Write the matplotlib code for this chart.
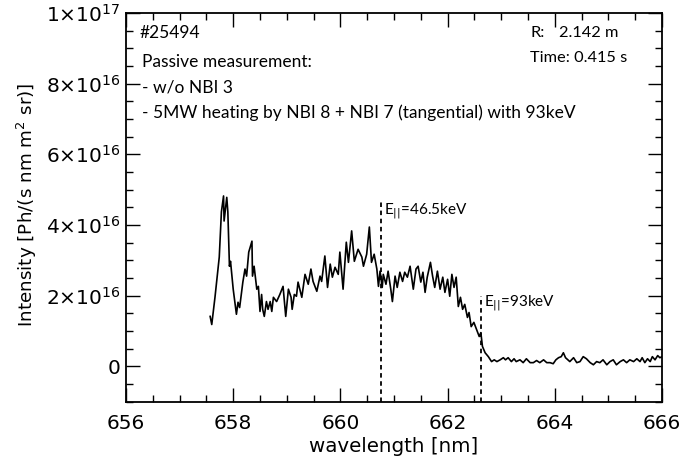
import matplotlib
matplotlib.use("Agg")
import matplotlib.pyplot as plt
from matplotlib.ticker import MultipleLocator, FixedLocator

# ---- data (wavelength in nm, intensity in units of 1e16 Ph/(s nm m^2 sr)) ----
wavelength = [
    657.57, 657.60, 657.66, 657.74, 657.78, 657.82, 657.83, 657.88, 657.90, 657.93,
    657.95, 658.00, 658.06, 658.09, 658.12, 658.18, 658.22, 658.25, 658.29, 658.35,
    658.36, 658.39, 658.44, 658.47, 658.50, 658.53, 658.55, 658.58, 658.62, 658.65,
    658.69, 658.72, 658.75, 658.81, 658.87, 658.93, 658.98, 659.03, 659.08, 659.10,
    659.14, 659.18, 659.21, 659.28, 659.34, 659.40, 659.45, 659.49, 659.56, 659.62,
    659.65, 659.71, 659.76, 659.81, 659.85, 659.90, 659.96, 659.99, 660.05, 660.11,
    660.15, 660.21, 660.26, 660.33, 660.40, 660.43, 660.49, 660.54, 660.58, 660.63,
    660.68, 660.71, 660.74, 660.78, 660.80, 660.85, 660.89, 660.94, 660.97, 661.02,
    661.06, 661.11, 661.16, 661.20, 661.25, 661.30, 661.36, 661.41, 661.45, 661.50,
    661.54, 661.58, 661.62, 661.68, 661.72, 661.76, 661.81, 661.86, 661.91, 661.95,
    662.00, 662.04, 662.08, 662.12, 662.16, 662.20, 662.24, 662.28, 662.32, 662.37,
    662.40, 662.44, 662.49, 662.54, 662.59, 662.62, 662.65, 662.70, 662.76, 662.82,
    662.87, 662.92, 662.98, 663.04, 663.08, 663.13, 663.19, 663.24, 663.28, 663.35,
    663.41, 663.47, 663.54, 663.60, 663.66, 663.72, 663.79, 663.85, 663.91, 663.97,
    664.02, 664.07, 664.12, 664.16, 664.20, 664.28, 664.35, 664.41, 664.47, 664.53,
    664.59, 664.66, 664.72, 664.78, 664.84, 664.90, 664.97, 665.03, 665.09, 665.15,
    665.22, 665.28, 665.34, 665.40, 665.47, 665.53, 665.59, 665.63, 665.68, 665.73,
    665.78, 665.82, 665.87, 665.92, 665.96, 666.00,
]
intensity = [
    1.41, 1.18, 1.95, 3.09, 4.37, 4.82, 4.11, 4.78, 4.37, 2.83,
    2.97, 2.18, 1.47, 1.81, 1.66, 2.38, 2.75, 2.55, 3.23, 3.54,
    2.55, 2.83, 2.18, 2.26, 1.55, 2.03, 1.61, 1.41, 1.83, 1.61,
    1.83, 1.55, 1.95, 1.83, 2.03, 2.26, 1.41, 2.18, 1.95, 1.61,
    2.03, 1.98, 2.38, 1.95, 2.60, 2.32, 2.75, 2.40, 2.12, 2.55,
    2.40, 3.12, 2.23, 2.89, 2.52, 2.80, 2.60, 3.23, 2.18, 3.51,
    2.94, 3.83, 2.97, 3.31, 3.09, 2.83, 3.17, 3.94, 2.94, 3.17,
    2.75, 2.26, 2.69, 2.23, 2.60, 2.32, 2.69, 2.18, 1.83, 2.55,
    2.23, 2.66, 2.40, 2.66, 2.52, 2.83, 2.18, 2.75, 2.83, 2.38,
    2.66, 2.09, 2.52, 2.94, 2.55, 2.23, 2.69, 2.18, 2.52, 2.09,
    2.46, 1.98, 2.60, 2.23, 2.52, 1.69, 1.95, 1.61, 1.75, 1.38,
    1.52, 1.12, 1.24, 1.04, 0.84, 0.95, 0.56, 0.38, 0.27, 0.13,
    0.18, 0.13, 0.18, 0.24, 0.18, 0.24, 0.13, 0.21, 0.13, 0.18,
    0.10, 0.21, 0.10, 0.10, 0.16, 0.10, 0.18, 0.10, 0.10, 0.07,
    0.18, 0.24, 0.27, 0.38, 0.24, 0.13, 0.24, 0.10, 0.13, 0.27,
    0.21, 0.10, 0.04, 0.13, 0.10, 0.18, 0.04, 0.13, 0.18, 0.04,
    0.13, 0.18, 0.10, 0.18, 0.13, 0.21, 0.13, 0.24, 0.10, 0.21,
    0.13, 0.27, 0.18, 0.30, 0.24, 0.27,
]
scale = 1e16

marker_wl = [660.76, 662.62]
marker_top = [4.7, 2.0]
marker_labels = [r"E$_{||}$=46.5keV", r"E$_{||}$=93keV"]

x_ticks = [656, 658, 660, 662, 664, 666]
y_ticks = [0, 2e16, 4e16, 6e16, 8e16, 1e17]
y_ticklabels = ["0", r"$2{\times}10^{16}$", r"$4{\times}10^{16}$", r"$6{\times}10^{16}$",
                r"$8{\times}10^{16}$", r"$1{\times}10^{17}$"]

info_left = ["#25494", "Passive measurement:", "- w/o NBI 3",
             "- 5MW heating by NBI 8 + NBI 7 (tangential) with 93keV"]

TXT_FONT = ["Lato", "DejaVu Sans"]

# ---- figure ----
plt.rcParams["mathtext.fontset"] = "dejavusans"
fig = plt.figure(figsize=(6.81, 4.62), dpi=100)
ax = fig.add_axes([126/681, 1 - 401.5/462, (662-126)/681, (401.5-13)/462])

ax.plot(wavelength, [v * scale for v in intensity], color="black", lw=1.2)

for xm, top in zip(marker_wl, marker_top):
    ax.plot([xm, xm], [-1e16, top * scale], color="black", lw=1.3,
            linestyle=(0, (2.5, 2)))

ax.text(marker_wl[0] + 0.06, 4.39e16, marker_labels[0], fontsize=11,
        family=TXT_FONT, va="center", ha="left")
ax.text(marker_wl[1] + 0.06, 1.78e16, marker_labels[1], fontsize=11,
        family=TXT_FONT, va="center", ha="left")

ax.set_xlim(656, 666)
ax.set_ylim(-1e16, 1e17)
ax.xaxis.set_major_locator(FixedLocator(x_ticks))
ax.xaxis.set_minor_locator(MultipleLocator(0.5))
ax.yaxis.set_major_locator(FixedLocator(y_ticks))
ax.yaxis.set_minor_locator(MultipleLocator(5e15))
ax.set_yticklabels(y_ticklabels)
ax.tick_params(which="both", direction="in", top=True, right=True, width=1.0)
ax.tick_params(which="major", length=10)
ax.tick_params(which="minor", length=5)
ax.tick_params(axis="x", which="major", labelsize=14.5, pad=9)
ax.tick_params(axis="y", which="major", labelsize=14.5, pad=4)
for s in ax.spines.values():
    s.set_linewidth(1.3)

ax.set_xlabel("wavelength [nm]", fontsize=14.3)
ax.xaxis.label.set_va("center")
ax.xaxis.set_label_coords(0.5, (401.5 - 446) / 388.5)
ax.set_ylabel(r"Intensity [Ph/(s nm m$^2$ sr)]", fontsize=13.2)
ax.yaxis.label.set_va("center")
ax.yaxis.set_label_coords((27 - 126) / 536, (401.5 - 205) / 388.5)

# info text
ys = [9.43e16, 8.6e16, 7.88e16, 7.17e16]
xs = [656.26, 656.30, 656.30, 656.30]
for t, x, y in zip(info_left, xs, ys):
    ax.text(x, y, t, fontsize=12.5, family=TXT_FONT, va="center", ha="left")

ax.text(663.54, 9.43e16, "R:", fontsize=11.8, family=TXT_FONT, va="center", ha="left")
ax.text(665.18, 9.43e16, "2.142 m", fontsize=11.8, family=TXT_FONT, va="center", ha="right")
ax.text(663.54, 8.72e16, "Time: 0.415 s", fontsize=11.8, family=TXT_FONT, va="center", ha="left")

fig.savefig("out.png", dpi=100)
